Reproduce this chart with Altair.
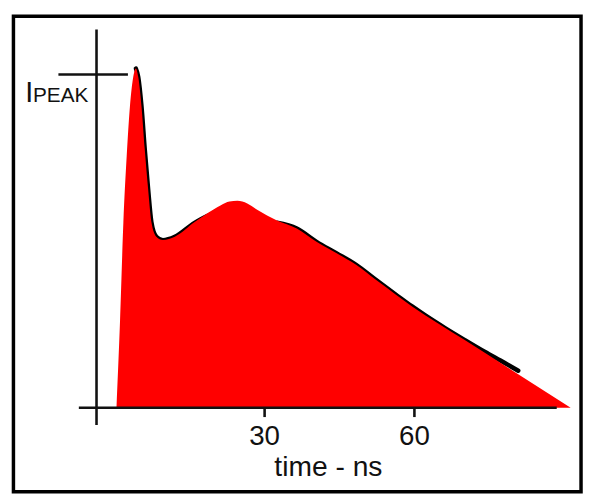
import altair as alt
import pandas as pd

# Red current pulse (time in ns, current relative to I_peak)
area_t = [0.34, 1.05, 1.72, 2.38, 3.03, 3.70, 4.22, 4.69, 5.35, 6.00, 6.67, 7.33,
          8.32, 9.64, 12.02, 15.98, 18.61, 21.25, 22.97, 24.55, 26.53, 28.51,
          32.48, 36.44, 40.40, 44.36, 48.32, 52.28, 56.24, 59.54, 70.0, 80.0, 91.29]
area_i = [0.0, 0.261, 0.557, 0.755, 0.904, 0.993, 1.018, 0.993, 0.904, 0.776, 0.657, 0.557,
          0.513, 0.503, 0.513, 0.557, 0.584, 0.608, 0.619, 0.621, 0.613, 0.594,
          0.562, 0.538, 0.498, 0.464, 0.429, 0.384, 0.340, 0.304, 0.204, 0.108, 0.0]

# Black outline, two visible pieces (ends tucked just under the red edge)
lineA_t = [4.22, 4.69, 5.35, 6.00, 6.67, 7.33, 8.32, 9.64, 12.02, 15.98, 18.61]
lineA_i = [1.018, 0.993, 0.904, 0.776, 0.657, 0.557, 0.513, 0.503, 0.513, 0.555, 0.576]
lineB_t = [32.48, 36.44, 40.40, 44.36, 48.32, 52.28, 56.24, 59.54, 62.18, 66.14, 70.10,
           74.06, 78.02, 80.79]
lineB_i = [0.555, 0.538, 0.498, 0.464, 0.429, 0.384, 0.340, 0.304, 0.277, 0.239, 0.203,
           0.168, 0.135, 0.111]

# Axis drawing (data units)
rule_x0 = [-3.66, -7.2, -11.29, 30, 60]
rule_x1 = [-3.66, 88.5, 2.63, 30, 60]
rule_y0 = [-0.052, 0.0, 1.0, 0.0, 0.0]
rule_y1 = [1.135, 0.0, 1.0, -0.028, -0.028]

tick_values = [30, 60]
tick_labels = ["30", "60"]
x_title = "time - ns"

area_df = pd.DataFrame({"t": area_t, "i": area_i})
line_df = pd.concat([
    pd.DataFrame({"t": lineA_t, "i": lineA_i, "seg": "A"}),
    pd.DataFrame({"t": lineB_t, "i": lineB_i, "seg": "B"}),
])
rule_df = pd.DataFrame({"x0": rule_x0, "x1": rule_x1, "y0": rule_y0, "y1": rule_y1})
center_txt = pd.DataFrame({
    "t": tick_values + [42.77],
    "v": [-0.1113, -0.1113, -0.2062],
    "label": tick_labels + [x_title],
    "size": [28, 28, 28.5],
})
left_txt = pd.DataFrame({
    "t": [-17.94, -16.38],
    "v": [0.9184, 0.9184],
    "label": ["I", "PEAK"],
    "size": [29, 21],
})

xs = alt.Scale(domain=[-20.297, 93.366], nice=False, zero=False)
ys = alt.Scale(domain=[-0.25223, 1.17507], nice=False, zero=False)

line = alt.Chart(line_df).mark_line(
    color="black", strokeWidth=4.5, interpolate="monotone", strokeCap="round"
).encode(
    x=alt.X("t:Q", scale=xs, axis=None),
    y=alt.Y("i:Q", scale=ys, axis=None),
    detail="seg:N",
    order="t:Q",
)

area = alt.Chart(area_df).mark_area(
    color="#ff0000", interpolate="monotone", opacity=1
).encode(
    x=alt.X("t:Q", scale=xs, axis=None),
    y=alt.Y("i:Q", scale=ys, axis=None),
    y2=alt.datum(0),
)

rules = alt.Chart(rule_df).mark_rule(color="#111111", strokeWidth=2.6).encode(
    x=alt.X("x0:Q", scale=xs, axis=None),
    x2="x1:Q",
    y=alt.Y("y0:Q", scale=ys, axis=None),
    y2="y1:Q",
)

text_c = alt.Chart(center_txt).mark_text(
    align="center", baseline="alphabetic", font="Liberation Sans", color="#111111"
).encode(
    x=alt.X("t:Q", scale=xs, axis=None),
    y=alt.Y("v:Q", scale=ys, axis=None),
    text="label:N",
    size=alt.Size("size:Q", scale=None, legend=None),
)

text_l = alt.Chart(left_txt).mark_text(
    align="left", baseline="alphabetic", font="Liberation Sans", color="#111111"
).encode(
    x=alt.X("t:Q", scale=xs, axis=None),
    y=alt.Y("v:Q", scale=ys, axis=None),
    text="label:N",
    size=alt.Size("size:Q", scale=None, legend=None),
)

chart = alt.layer(line, area, rules, text_c, text_l).properties(
    width=574,
    height=481,
    autosize=alt.AutoSizeParams(type="none"),
    padding={"left": 5.5, "top": 5.5, "right": 3, "bottom": 0.5},
    background="white",
).configure_view(stroke="black", strokeWidth=3.5)

chart.save("out.html", embed_options={"renderer": "svg", "actions": False})
